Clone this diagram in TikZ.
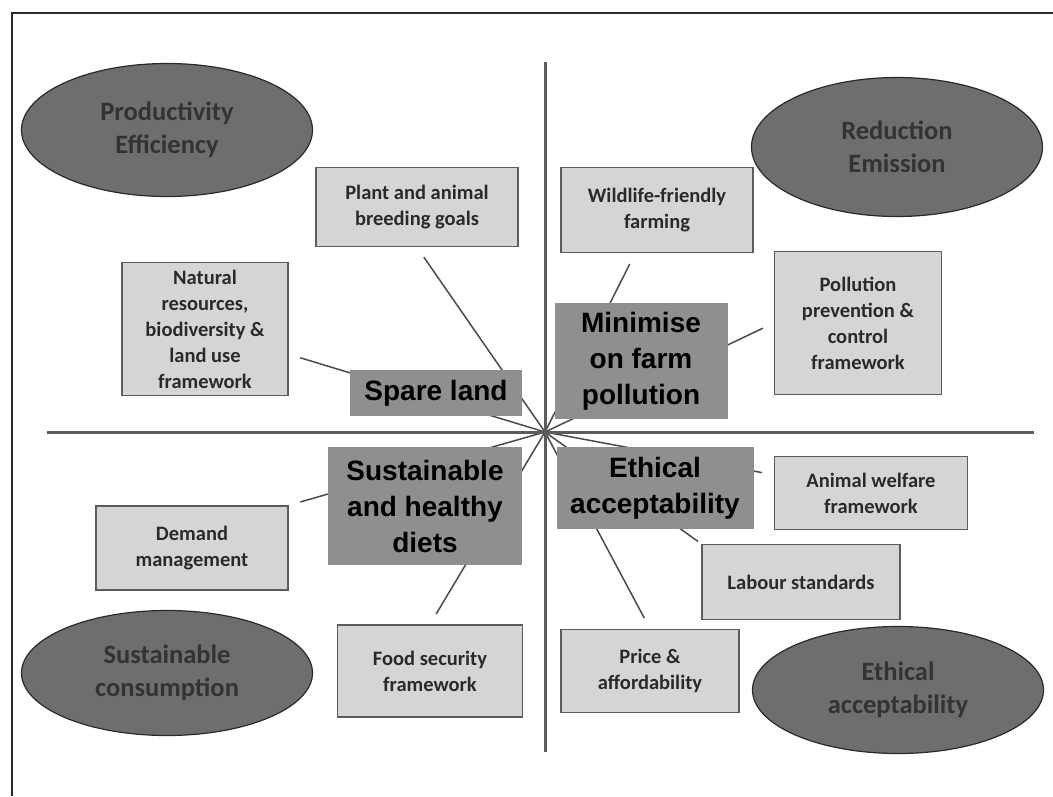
\documentclass[tikz,border=0pt]{standalone}
\usepackage{fontspec}
\setmainfont{Carlito}
\newfontfamily\goalfont{Liberation Sans}
\usetikzlibrary{shapes.geometric,backgrounds}
\definecolor{farmInk}{HTML}{2A2A2A}
\definecolor{farmOvalInk}{HTML}{333333}
\definecolor{farmDark}{HTML}{6E6E6E}
\definecolor{farmMid}{HTML}{8F8F8F}
\definecolor{farmLight}{HTML}{D5D5D5}
\definecolor{farmEdge}{HTML}{5C5C5C}
\definecolor{farmLine}{HTML}{4A4A4A}
\tikzset{
  farm oval/.style={ellipse, draw=farmInk, line width=1.2pt, fill=farmDark,
    text=farmOvalInk, align=center, inner sep=0pt, minimum width=291pt,
    font=\bfseries\fontsize{26.5}{33}\selectfont},
  farm item/.style={rectangle, draw=farmEdge, line width=1.5pt, fill=farmLight,
    text=farmInk, align=center, inner sep=0pt,
    font=\bfseries\fontsize{20.5}{26}\selectfont},
  farm goal/.style={rectangle, fill=farmMid, text=black, align=center, inner sep=0pt,
    font=\goalfont\bfseries\fontsize{28}{36}\selectfont},
  farm link/.style={draw=farmLine, line width=1.5pt, shorten <=12pt},
  farm axis/.style={draw=farmEdge, line width=3pt},
  farm frame/.style={draw=farmInk, line width=2pt}
}
\begin{document}
\begin{tikzpicture}[x=1pt,y=-1pt]
  \useasboundingbox (0,0) rectangle (1053,796);
  \draw[farm frame] (12,796) |- (1053,13);
  \coordinate (hub) at (545,432);
  \coordinate (axis top) at (545,62);
  \coordinate (axis bottom) at (545,752);
  \coordinate (axis left) at (47,432);
  \coordinate (axis right) at (1034,432);
  \draw[farm axis] (axis top) -- (axis bottom);
  \draw[farm axis] (axis left) -- (axis right);

  \node[farm oval, minimum height=133pt] (prod) at (167,130) {Productivity\\Efficiency};
  \node[farm oval, minimum height=139pt] (reduc) at (897,147) {Reduction\\Emission};
  \node[farm oval, minimum height=125pt] (cons) at (167,673) {Sustainable\\consumption};
  \node[farm oval, minimum height=127pt] (ethic) at (898,690) {Ethical\\acceptability};

  \node[farm item, minimum width=202pt, minimum height=79pt] (breed) at (417,207) {Plant and animal\\breeding goals};
  \node[farm item, minimum width=166pt, minimum height=133pt] (natural) at (205,329) {Natural\\resources,\\biodiversity \&\\land use\\framework};
  \node[farm item, minimum width=192pt, minimum height=85pt] (wild) at (657,210) {Wildlife-friendly\\farming};
  \node[farm item, minimum width=167pt, minimum height=143pt] (poll) at (858,323) {Pollution\\prevention \&\\control\\framework};
  \node[farm item, minimum width=192pt, minimum height=84pt] (demand) at (192,548) {Demand\\management};
  \node[farm item, minimum width=185pt, minimum height=92pt] (food) at (430,671) {Food security\\framework};
  \node[farm item, minimum width=193pt, minimum height=73pt] (animal) at (871,493) {Animal welfare\\framework};
  \node[farm item, minimum width=198pt, minimum height=75pt] (labour) at (801,582) {Labour standards};
  \node[farm item, minimum width=178pt, minimum height=83pt] (price) at (650,671) {Price \&\\affordability};

  \node[farm goal, minimum width=172pt, minimum height=46pt] (spare) at (436,393) {Spare land};
  \node[farm goal, minimum width=173pt, minimum height=116pt] (minimise) at (641,361) {Minimise\\on farm\\pollution};
  \node[farm goal, minimum width=194pt, minimum height=118pt] (diets) at (425,506) {Sustainable\\and healthy\\diets};
  \node[farm goal, minimum width=197pt, minimum height=82pt] (ethical) at (655,488) {Ethical\\acceptability};

  \begin{scope}[on background layer]
    \draw[farm link] (breed.south) -- (hub);
    \draw[farm link] (natural) -- (hub);
    \draw[farm link] (wild) -- (hub);
    \draw[farm link] (poll.west) -- (hub);
    \draw[farm link] (demand.north east) -- (hub);
    \draw[farm link] (food.north) -- (hub);
    \draw[farm link] (animal) -- (hub);
    \draw[farm link, shorten <=4pt] (labour.north west) -- (hub);
    \draw[farm link] (price.north) -- (hub);
  \end{scope}
\end{tikzpicture}
\end{document}
